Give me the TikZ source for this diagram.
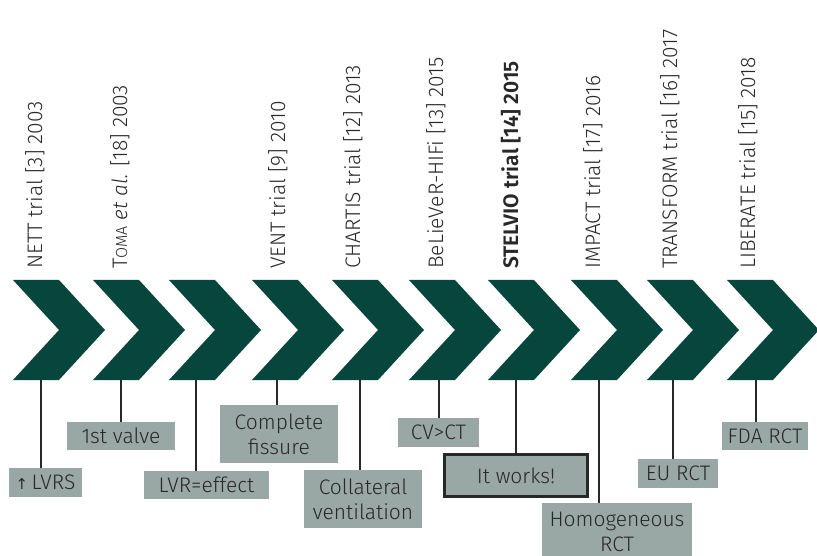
\documentclass[tikz,border=0pt]{standalone}
\usepackage{fontspec}
\setmainfont{Fira Sans Light}[BoldFont={Fira Sans SemiBold}, ItalicFont={Fira Sans Light Italic}]
\newfontfamily\arrowfont{DejaVu Sans}

\definecolor{chevgreen}{RGB}{6,70,60}
\definecolor{boxgrey}{RGB}{153,167,165}
\definecolor{inkgrey}{RGB}{40,40,40}

\tikzset{
  chev/.style={fill=chevgreen},
  stem/.style={draw=inkgrey, line width=1.3pt},
  tag/.style={fill=boxgrey, text=inkgrey, inner sep=0pt, align=center,
    font=\fontsize{21}{25}\selectfont},
  trial/.style={rotate=90, anchor=base west, text=inkgrey, inner sep=0pt,
    font=\fontsize{21}{21}\selectfont},
}

\begin{document}
\begin{tikzpicture}[x=1pt, y=-1pt]
          \useasboundingbox (0,0) rectangle (817,556);
          % chevrons
          \foreach \l in {13,93,169,252,332,409,488,571,647,727}
            \fill [chev] (\l,280) -- ++(46,0) -- ++(46,50) -- ++(-46,50) -- ++(-46,0) -- ++(46,-50) -- cycle;
          % trial labels
          \node [trial] (t1) at (42,269) {NETT trial [3] 2003};
          \node [trial] (t2) at (127,269) {T{\fontsize{16}{16}\selectfont OMA} \textit{et al.} [18] 2003};
          \node [trial] (t4) at (285,269) {VENT trial [9] 2010};
          \node [trial] (t5) at (360,269) {CHARTIS trial [12] 2013};
          \node [trial] (t6) at (443,269) {BeLieVeR-HIFi [13] 2015};
          \node [trial] (t7) at (518,269) {\bfseries STELVIO trial [14] 2015};
          \node [trial] (t8) at (600,269) {IMPACT trial [17] 2016};
          \node [trial] (t9) at (677,269) {TRANSFORM trial [16] 2017};
          \node [trial] (t10) at (755,269) {LIBERATE trial [15] 2018};
          % stems start under each chevron
          \coordinate (v1) at (41,380);
          \coordinate (v2) at (121,380);
          \coordinate (v3) at (196,380);
          \coordinate (v4) at (277,380);
          \coordinate (v5) at (360,380);
          \coordinate (v6) at (439,380);
          \coordinate (v7) at (516,380);
          \coordinate (v8) at (599,380);
          \coordinate (v9) at (673,380);
          \coordinate (v10) at (756,380);
          % findings
          \node [tag, minimum width=73, minimum height=29] (b1) at (45.5,482.5) {{\arrowfont\fontsize{15}{15}\selectfont ↑}\,LVRS};
          \node [tag, minimum width=108, minimum height=28] (b2) at (121,436) {1st valve};
          \node [tag, minimum width=125, minimum height=28] (b3) at (206.5,485) {LVR=effect};
          \node [tag, minimum width=118, minimum height=58] (b4) at (279,434) {Complete\\fissure};
          \node [tag, minimum width=118, minimum height=58] (b5) at (363,499) {Collateral\\ventilation};
          \node [tag, minimum width=81, minimum height=29] (b6) at (438.5,432.5) {CV>CT};
          \node [tag, draw=inkgrey, line width=3pt, minimum width=143, minimum height=42] (b7) at (516,475.5) {It works!};
          \node [tag, minimum width=150, minimum height=58] (b8) at (617,532) {Homogeneous\\RCT};
          \node [tag, minimum width=80, minimum height=29] (b9) at (678,473.5) {EU RCT};
          \node [tag, minimum width=86, minimum height=28] (b10) at (765,436) {FDA RCT};
          \foreach \i in {1,...,10}
            \draw [stem] (v\i) -- (v\i |- b\i.north);
\end{tikzpicture}
\end{document}
